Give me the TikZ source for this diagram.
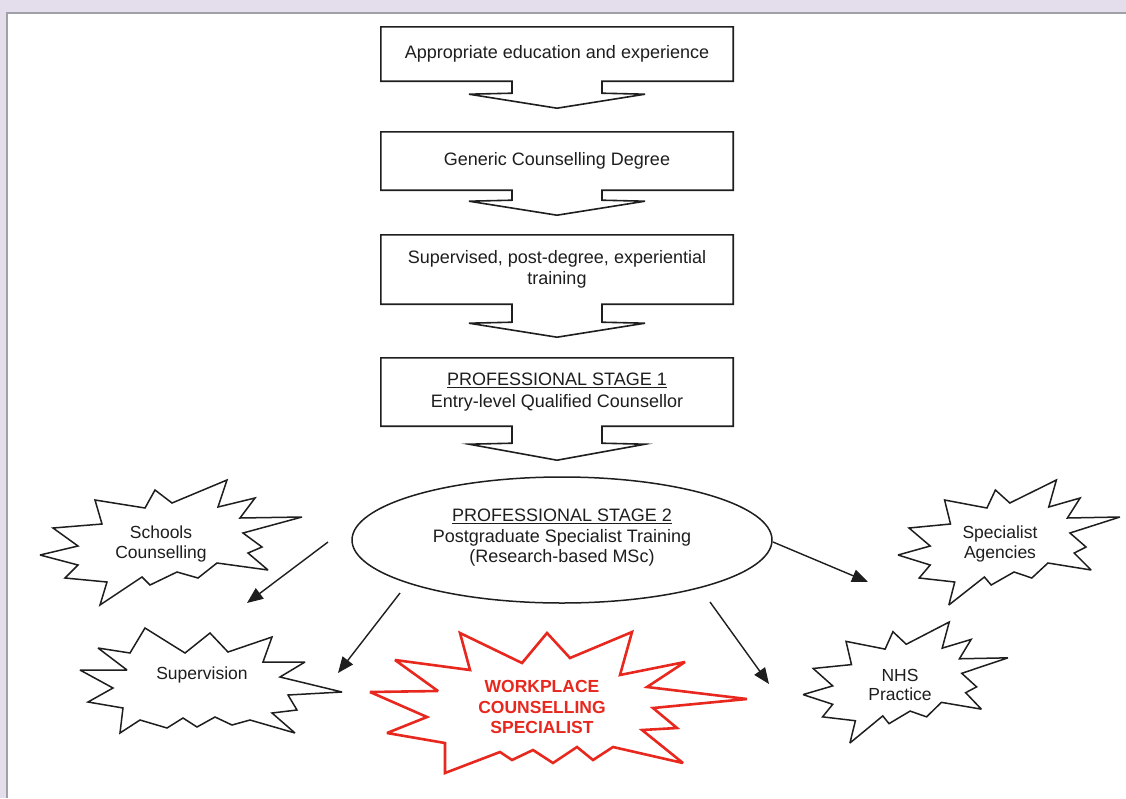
\documentclass[tikz,border=0pt]{standalone}
\usepackage{fontspec}
\setmainfont{Liberation Sans}
\usetikzlibrary{arrows.meta,shapes.geometric}
\definecolor{lav}{RGB}{228,222,236}
\definecolor{ink}{RGB}{30,30,30}
\definecolor{wred}{RGB}{232,40,30}
\definecolor{panelline}{RGB}{160,160,168}

\newcommand{\burstshapeA}{%
  \draw[burst] (0,75) -- (38,66) -- (13,48) -- (62,44) -- (55,20) -- (105,28) -- (115,10) -- (132,23) -- (187,0) -- (178,27) -- (215,18) -- (200,38) -- (262,37) -- (203,53) -- (222,67) -- (208,73) -- (228,90) -- (177,83) -- (158,98) -- (137,92) -- (110,105) -- (102,97) -- (60,125) -- (67,102) -- (25,98) -- (38,85) -- cycle;}
\newcommand{\calloutbox}[3]{%
  \draw[boxline] (#1.north west) -- (#1.north east) -- (#1.south east) -- ([xshift=45pt]#1.south) -- ++(0,#2) -- ++(43,1) -- ++(-88,#3) -- ++(-88,-#3) -- ++(43,-1) -- ++(0,-#2) -- (#1.south west) -- cycle;}

\begin{document}
\begin{tikzpicture}[x=1pt,y=-1pt,
  font=\fontsize{18}{21.5}\selectfont, text=ink,
  boxnode/.style={rectangle, minimum width=352pt, inner sep=0pt, align=center},
  boxline/.style={draw=ink, line width=1.6pt, line join=miter},
  burst/.style={draw=ink, line width=1.5pt, fill=white, line join=miter, miter limit=3},
  wburst/.style={draw=wred, line width=2.6pt, fill=white, line join=miter, miter limit=3},
  arr/.style={draw=ink, line width=1.4pt, -{Triangle[length=16pt,width=13pt]}},
  bursttext/.style={align=center, inner sep=0pt, font=\fontsize{17.5}{19.5}\selectfont}]

% background and panel
\useasboundingbox (0,0) rectangle (1126,798);
\fill[lav] (0,0) rectangle (1126,798);
\fill[white] (6,12) rectangle (1126,798);
\draw[panelline, line width=1.5pt] (6.75,798) -- (6.75,12.75) -- (1126,12.75);

% boxes
\node[boxnode, minimum height=54pt] (b1) at (557,54) {Appropriate education and experience};
\node[boxnode, minimum height=58pt] (b2) at (557,161) {Generic Counselling Degree};
\node[boxnode, minimum height=69pt] (b3) at (557,269.5) {Supervised, post-degree, experiential\\training};
\node[boxnode, minimum height=68pt] (b4) at (557,392) {\underline{PROFESSIONAL STAGE 1}\\Entry-level Qualified Counsellor};
\calloutbox{b1}{12}{14}
\calloutbox{b2}{10}{14}
\calloutbox{b3}{18}{14}
\calloutbox{b4}{17}{16}

% ellipse
\node[ellipse, draw=ink, line width=1.5pt, minimum width=420pt, minimum height=126pt, inner sep=0pt] (stage2) at (562,540) {};
\node[align=center, inner sep=0pt, font=\fontsize{18}{20.5}\selectfont] (stage2t) at (562,538) {\underline{PROFESSIONAL STAGE 2}\\Postgraduate Specialist Training\\(Research-based MSc)};

% bursts
\begin{scope}[shift={(40,480)}]\burstshapeA\end{scope}
\begin{scope}[shift={(898,480)}, xscale=0.847]\burstshapeA\end{scope}
\begin{scope}[shift={(803,622)}, xscale=0.782, yscale=0.968]\burstshapeA\end{scope}
\draw[burst] (98,648) -- (130,653) -- (145,628) -- (185,653) -- (210,633) -- (228,652) -- (272,637) -- (263,662) -- (305,662) -- (280,677) -- (342,692) -- (288,695) -- (297,710) -- (272,713) -- (295,733) -- (250,720) -- (232,725) -- (215,717) -- (197,727) -- (183,718) -- (167,728) -- (140,720) -- (120,733) -- (123,708) -- (88,702) -- (113,688) -- (80,670) -- (127,670) -- cycle;
\draw[wburst] (370,692) -- (438,691) -- (395,660) -- (470,670) -- (460,633) -- (522,663) -- (547,633) -- (570,658) -- (632,632) -- (620,675) -- (685,662) -- (647,687) -- (747,699) -- (653,708) -- (677,728) -- (642,730) -- (683,763) -- (613,747) -- (593,760) -- (577,747) -- (553,763) -- (533,750) -- (512,760) -- (500,752) -- (445,773) -- (445,743) -- (387,733) -- (427,717) -- cycle;

\node[bursttext] (sc) at (161,544) {Schools\\Counselling};
\node[bursttext] (spa) at (1000,544) {Specialist\\Agencies};
\node[bursttext] (nhs) at (900,685) {NHS\\Practice};
\node[bursttext] (sup) at (202,675) {Supervision};
\node[bursttext, text=wred, font=\bfseries\fontsize{17.5}{20.5}\selectfont] (wcs) at (542,707) {WORKPLACE\\COUNSELLING\\SPECIALIST};

% arrows
\coordinate (a1s) at (328,542); \coordinate (a1e) at (247,603);
\coordinate (a2s) at (400,593); \coordinate (a2e) at (338,673);
\coordinate (a3s) at (773,542); \coordinate (a3e) at (868,582);
\coordinate (a4s) at (710,602); \coordinate (a4e) at (769,684);
\draw[arr] (a1s) -- (a1e);
\draw[arr] (a2s) -- (a2e);
\draw[arr] (a3s) -- (a3e);
\draw[arr] (a4s) -- (a4e);
\end{tikzpicture}
\end{document}
